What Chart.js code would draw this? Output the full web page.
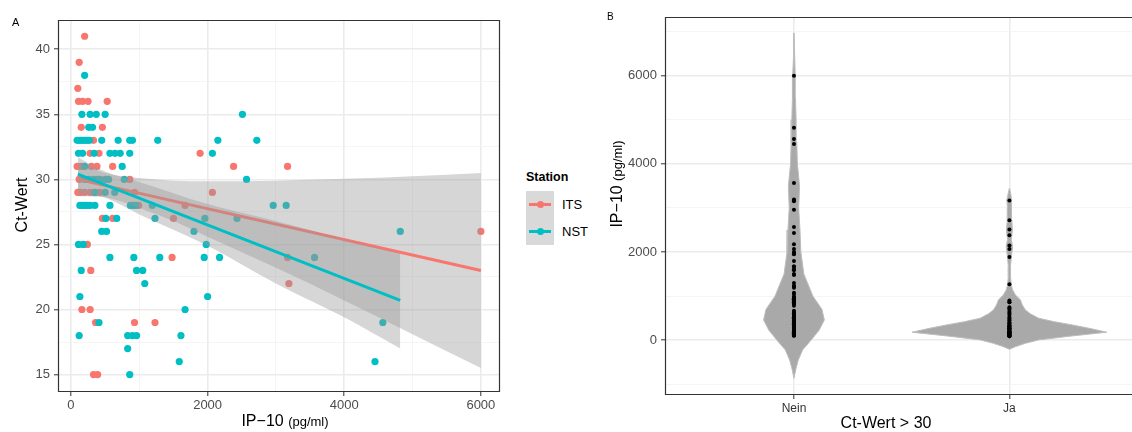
<!DOCTYPE html>
<html>
<head>
<meta charset="utf-8">
<script src="https://cdn.jsdelivr.net/npm/chart.js@4.4.1/dist/chart.umd.min.js"></script>
<style>
  html, body { margin: 0; padding: 0; overflow: hidden; background: #fff; }
  body { width: 1132px; height: 432px; position: relative; font-family: "Liberation Sans", Arial, sans-serif; color: #000; }
  canvas { position: absolute; top: 0; }
  #chartA { left: 0; }
  #chartB { left: 600px; }
  .lbl { position: absolute; white-space: nowrap; line-height: 15px; }
  .ttl { position: absolute; white-space: nowrap; font-size: 16px; line-height: 18px; transform: translate(-50%, -50%); }
  .ttl.rot { transform: translate(-50%, -50%) rotate(-90deg); }
  .ttl small { font-size: 13px; }
  .key { position: absolute; left: 526px; width: 28px; height: 27px; background: #d9d9d9; }
  .key i { position: absolute; left: 3px; right: 3px; top: 12px; height: 3px; }
  .key b { position: absolute; left: 10.5px; top: 10px; width: 7px; height: 7px; border-radius: 50%; }
</style>
</head>
<body>
<canvas id="chartA" width="510" height="432"></canvas>
<canvas id="chartB" width="532" height="432"></canvas>

<div class="lbl" style="left:12px;top:15px;font-size:11px">A</div>
<div class="lbl" style="left:607px;top:9px;font-size:10px">B</div>

<div class="ttl rot" style="left:22px;top:205px">Ct-Wert</div>
<div class="ttl" style="left:285px;top:421px">IP&minus;10 <small>(pg/ml)</small></div>
<div class="ttl rot" style="left:617px;top:184px">IP&minus;10 <small>(pg/ml)</small></div>
<div class="ttl" style="left:886px;top:423px">Ct-Wert &gt; 30</div>

<div class="lbl" style="left:526px;top:170px;font-size:12.5px;font-weight:bold">Station</div>
<div class="key" style="top:191px"><i style="background:#F8766D"></i><b style="background:#F8766D"></b></div>
<div class="key" style="top:218px"><i style="background:#00BFC4"></i><b style="background:#00BFC4"></b></div>
<div class="lbl" style="left:562px;top:197px;font-size:13px">ITS</div>
<div class="lbl" style="left:562px;top:224px;font-size:13px">NST</div>

<script>
// IP-10 (pg/ml) and Ct-Wert per sample, split by station
var itsIP = [200, 120, 100, 110, 170, 250, 530, 150, 460, 330, 280, 410, 1890,
             90, 150, 300, 380, 610, 2380, 3170, 120, 860,
             100, 140, 200, 280, 350, 420, 930, 2070, 990, 1670,
             460, 610, 1500, 6000, 240, 1480, 3170, 290, 3190,
             160, 280, 360, 930, 1230, 330, 390];
var itsCt = [41, 39, 37, 36, 36, 36, 36, 34, 34, 33, 32, 32, 32,
             31, 31, 31, 31, 31, 31, 31, 30, 30,
             29, 29, 29, 29, 29, 29, 29, 29, 28, 28,
             27, 27, 27, 26, 25, 24, 24, 23, 22,
             20, 20, 19, 19, 19, 15, 15];

var nstIP = [200,
             160, 280, 370, 500, 2510,
             260, 315,
             90, 120, 150, 180, 210, 240, 270, 450, 690, 860, 900, 1270, 2150, 2720,
             110, 170, 340, 570, 645, 720, 860, 2070,
             200, 750,
             200, 260, 330, 380, 420, 500, 550, 780, 2570,
             350, 500, 640,
             130, 170, 200, 240, 280, 350, 570, 870, 910, 950, 1190, 2960, 3150,
             510, 670, 1230, 1960, 2430,
             450, 520, 1800, 4820,
             110, 180, 1980,
             570, 920, 1300, 1950, 2175, 3565,
             150, 960, 1050,
             1080,
             130, 2000,
             1670,
             410, 4565,
             120, 830, 900, 960, 1610,
             830,
             1585, 4450,
             860];
var nstCt = [38,
             35, 35, 35, 35, 35,
             34, 34,
             33, 33, 33, 33, 33, 33, 33, 33, 33, 33, 33, 33, 33, 33,
             32, 32, 32, 32, 32, 32, 32, 32,
             31, 31,
             30, 30, 30, 30, 30, 30, 30, 30, 30,
             29, 29, 29,
             28, 28, 28, 28, 28, 28, 28, 28, 28, 28, 28, 28, 28,
             27, 27, 27, 27, 27,
             26, 26, 26, 26,
             25, 25, 25,
             24, 24, 24, 24, 24, 24,
             23, 23, 23,
             22,
             21, 21,
             20,
             19, 19,
             18, 18, 18, 18, 18,
             17,
             16, 16,
             15];

// linear fits and 95% bands per station
var itsFitX = [100, 6000];
var itsFitY = [30.0, 23.0];
var itsBandX = [100, 500, 1000, 1500, 2000, 3000, 4000, 5000, 6000];
var itsBandHi = [31.3, 30.5, 30.1, 29.9, 29.85, 29.9, 30.05, 30.25, 30.5];
var itsBandLo = [28.7, 28.6, 27.8, 26.8, 25.6, 23.2, 20.7, 18.1, 15.5];

var nstFitX = [100, 4820];
var nstFitY = [30.4, 20.7];
var nstBandX = [100, 500, 1000, 2000, 3000, 4000, 4820];
var nstBandHi = [31.7, 30.6, 29.8, 28.1, 26.8, 25.4, 24.3];
var nstBandLo = [29.1, 28.6, 27.3, 24.9, 22.0, 19.4, 17.0];

// violin outlines: IP-10 level -> half width (in category units)
var groups = ['Nein', 'Ja'];
var neinLevels = [-863, -650, -450, -220, 0, 230, 460, 700, 1000, 1300, 1500, 2000,
                  2500, 3000, 3500, 4000, 4500, 5000, 5500, 6000, 6500, 6970];
var neinHalf = [0, 0.009, 0.020, 0.040, 0.079, 0.117, 0.141, 0.130, 0.088, 0.063, 0.046, 0.032,
                0.028, 0.022, 0.026, 0.016, 0.013, 0.010, 0.007, 0.006, 0.003, 0];
var jaLevels = [-205, -145, -70, 7, 98, 182, 270, 348, 420, 499, 600, 688, 800, 915, 1029,
                1150, 1255, 1440, 1670, 1900, 2125, 2280, 2500, 2730, 2880, 3000, 3185, 3300, 3451];
var jaHalf = [0, 0.028, 0.074, 0.135, 0.291, 0.452, 0.371, 0.291, 0.209, 0.136, 0.097, 0.074, 0.060,
              0.051, 0.028, 0.014, 0.009, 0.005, 0.005, 0.009, 0.015, 0.009, 0.014, 0.011, 0.008,
              0.009, 0.012, 0.007, 0];

var ctTicks = [15, 17.5, 20, 22.5, 25, 27.5, 30, 32.5, 35, 37.5, 40];
var ipTicksA = [0, 1000, 2000, 3000, 4000, 5000, 6000];
var ipTicksB = [-1000, 0, 1000, 2000, 3000, 4000, 5000, 6000, 7000];

var RED = '#F8766D', TEAL = '#00BFC4', BAND = 'rgba(153,153,153,0.4)';
var FONT = '"Liberation Sans", Arial, sans-serif';

Chart.defaults.font.family = FONT;

function pts(xs, ys) {
    return xs.map(function(x, i) { return { x: x, y: ys[i] }; });
}

function gridFor(isMajor) {
    return {
        color: function(c) { return c.tick && isMajor(c.tick.value) ? '#ebebeb' : '#f2f2f2'; },
        lineWidth: function(c) { return c.tick && isMajor(c.tick.value) ? 1.6 : 0.8; },
        tickColor: function(c) { return c.tick && isMajor(c.tick.value) ? '#333333' : 'rgba(0,0,0,0)'; },
        tickLength: 4,
        tickWidth: 1
    };
}

function fixedTicks(list) {
    return function(s) { s.ticks = list.map(function(v) { return { value: v }; }); };
}

// fixed axis sizes, no extra room for edge labels
function fixHeight(h) {
    return function(s) { s.height = h; s.paddingLeft = 0; s.paddingRight = 0; };
}
function fixWidth(w) {
    return function(s) { s.width = w; s.paddingTop = 0; s.paddingBottom = 0; };
}

// frame round the plot area; panel B loses its right side off the page
var panelBorder = {
    id: 'panelBorder',
    afterDraw: function(chart, args, opts) {
        var a = chart.chartArea, ctx = chart.ctx;
        var l = a.left + 0.5, t = a.top + 0.5, r = a.right - 0.5, b = a.bottom - 0.5;
        ctx.save();
        ctx.strokeStyle = '#333333';
        ctx.lineWidth = 1.2;
        ctx.beginPath();
        if (opts.openRight) {
            ctx.moveTo(r + 2, t); ctx.lineTo(l, t); ctx.lineTo(l, b); ctx.lineTo(r + 2, b);
        } else {
            ctx.rect(l, t, r - l, b - t);
        }
        ctx.stroke();
        ctx.restore();
    }
};

function lineSet(data, color, order) {
    return { type: 'line', data: data, borderColor: color, borderWidth: 3, pointRadius: 0,
             fill: false, order: order, tension: 0 };
}

function bandEdge(data, order, fillTo) {
    return { type: 'line', data: data, borderWidth: 0, borderColor: 'rgba(0,0,0,0)', pointRadius: 0,
             backgroundColor: BAND, fill: fillTo === undefined ? false : fillTo, order: order,
             cubicInterpolationMode: 'monotone' };
}

// ─── Panel A: Ct-Wert vs IP-10 ──────────────────────────

new Chart(document.getElementById('chartA'), {
    type: 'scatter',
    data: {
        datasets: [
            { label: 'ITS', data: pts(itsIP, itsCt), backgroundColor: RED, borderWidth: 0, pointRadius: 3.6, order: 6 },
            { label: 'NST', data: pts(nstIP, nstCt), backgroundColor: TEAL, borderWidth: 0, pointRadius: 3.6, order: 5 },
            bandEdge(pts(itsBandX, itsBandLo), 4),
            bandEdge(pts(itsBandX, itsBandHi), 4, 2),
            lineSet(pts(itsFitX, itsFitY), RED, 3),
            bandEdge(pts(nstBandX, nstBandLo), 2),
            bandEdge(pts(nstBandX, nstBandHi), 2, 5),
            lineSet(pts(nstFitX, nstFitY), TEAL, 1)
        ]
    },
    options: {
        responsive: false, animation: false, devicePixelRatio: 1, events: [],
        layout: { autoPadding: false, padding: { left: 0, right: 10, top: 20, bottom: 0 } },
        plugins: { legend: { display: false }, tooltip: { enabled: false }, panelBorder: { openRight: false } },
        scales: {
            x: {
                type: 'linear', min: -190, max: 6280,
                afterBuildTicks: fixedTicks(ipTicksA),
                afterFit: fixHeight(40),
                grid: gridFor(function(v) { return v % 2000 === 0; }),
                border: { display: false },
                ticks: {
                    autoSkip: false, maxRotation: 0, padding: 2, color: '#4d4d4d', font: { size: 13 },
                    callback: function(v) { return v % 2000 === 0 ? String(v) : ''; }
                }
            },
            y: {
                type: 'linear', min: 13.66, max: 42.25,
                afterBuildTicks: fixedTicks(ctTicks),
                afterFit: fixWidth(58),
                grid: gridFor(function(v) { return v % 5 === 0; }),
                border: { display: false },
                ticks: {
                    autoSkip: false, padding: 4, color: '#4d4d4d', font: { size: 13 },
                    callback: function(v) { return v % 5 === 0 ? String(v) : ''; }
                }
            }
        }
    },
    plugins: [panelBorder]
});

// ─── Panel B: IP-10 by Ct-Wert > 30 ─────────────────────

function violin(center, levels, half) {
    var right = levels.map(function(v, i) { return { x: center + half[i], y: v }; });
    var left = levels.map(function(v, i) { return { x: center - half[i], y: v }; }).reverse();
    return right.concat(left);
}

var dots = [];
itsIP.forEach(function(v, i) { dots.push({ x: itsCt[i] > 30 ? 2 : 1, y: v }); });
nstIP.forEach(function(v, i) { dots.push({ x: nstCt[i] > 30 ? 2 : 1, y: v }); });

function violinSet(data) {
    return { type: 'line', data: data, fill: 'shape', backgroundColor: '#a9a9a9', borderColor: '#bdbdbd',
             borderWidth: 1, pointRadius: 0, tension: 0, order: 3 };
}

new Chart(document.getElementById('chartB'), {
    type: 'scatter',
    data: {
        datasets: [
            violinSet(violin(1, neinLevels, neinHalf)),
            violinSet(violin(2, jaLevels, jaHalf)),
            { data: dots, backgroundColor: '#000', borderWidth: 0, pointRadius: 2, order: 1 }
        ]
    },
    options: {
        responsive: false, animation: false, devicePixelRatio: 1, events: [],
        layout: { autoPadding: false, padding: { left: 0, right: 0, top: 17, bottom: 0 } },
        plugins: { legend: { display: false }, tooltip: { enabled: false }, panelBorder: { openRight: true } },
        scales: {
            x: {
                type: 'linear', min: 0.4014, max: 2.569,
                afterBuildTicks: fixedTicks([1, 2]),
                afterFit: fixHeight(37),
                grid: gridFor(function() { return true; }),
                border: { display: false },
                ticks: {
                    autoSkip: false, maxRotation: 0, padding: 2, color: '#333333', font: { size: 12 },
                    callback: function(v) { return groups[v - 1] || ''; }
                }
            },
            y: {
                type: 'linear', min: -1242, max: 7332,
                afterBuildTicks: fixedTicks(ipTicksB),
                afterFit: fixWidth(65),
                grid: gridFor(function(v) { return v % 2000 === 0; }),
                border: { display: false },
                ticks: {
                    autoSkip: false, padding: 4, color: '#4d4d4d', font: { size: 13 },
                    callback: function(v) { return v % 2000 === 0 ? String(v) : ''; }
                }
            }
        }
    },
    plugins: [panelBorder]
});
</script>
</body>
</html>
